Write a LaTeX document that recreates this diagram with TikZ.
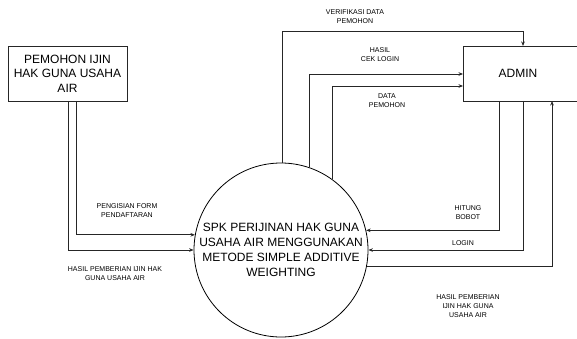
\documentclass[tikz,border=0pt]{standalone}
\usepackage{fontspec}
\setmainfont{Liberation Sans}
\usetikzlibrary{arrows.meta}
\begin{document}
\begin{tikzpicture}[x=1pt,y=-1pt,
  flow/.style={draw=black!85, line width=0.8pt, -{Stealth[length=4.5pt,width=3.6pt]}},
  entity/.style={draw=black!85, line width=0.8pt, inner sep=0pt},
  biglbl/.style={font=\fontsize{12}{14.5}\selectfont, align=center, inner sep=0pt},
  lbl/.style={font=\fontsize{7}{9}\selectfont, align=center, inner sep=0pt, text=black}]
\useasboundingbox (0,0) rectangle (577,339);
% entities
\node[entity, minimum width=119pt, minimum height=55pt] (pem) at (67.5,73.5) {};
\node[biglbl] (pemt) at (pem) {PEMOHON IJIN\\HAK GUNA USAHA\\AIR};
\begin{scope}
\clip (0,0) rectangle (577,339);
\node[entity, minimum width=125pt, minimum height=55pt, anchor=north west] (adm) at (463,46) {};
\end{scope}
\node[biglbl] (admt) at (518,73) {ADMIN};
% process
\node[circle, draw=black, line width=0.8pt, minimum size=174pt, inner sep=0pt] (c) at (281,250) {};
\node[biglbl, font=\fontsize{12}{15}\selectfont] (ct) at (281,250) {SPK PERIJINAN HAK GUNA\\USAHA AIR MENGGUNAKAN\\METODE SIMPLE ADDITIVE\\WEIGHTING};
% helper coordinates
\coordinate (p1) at (76,101);
\coordinate (p2) at (68,101);
\coordinate (a1) at (499,101);
\coordinate (a2) at (523,101);
\coordinate (a3) at (552,101);
\coordinate (at1) at (523,46);
\coordinate (al1) at (463,74);
\coordinate (al2) at (463,86);
% left flows
\draw[flow] (p1) |- (c.170.1);
\draw[flow] (p2) |- (c.180.7);
% top flows
\draw[flow] (c.89.3) |- (523,31) -- (at1);
\draw[flow] (c.71.9) |- (al1);
\draw[flow] (c.54.9) |- (al2);
% right flows
\draw[flow] (a1) |- (c.13.3);
\draw[flow] (a2) |- (c.-0.66);
\draw[flow] (c.-11.9) -| (a3);
% labels
\node[lbl] (l1) at (127,210.5) {PENGISIAN FORM\\PENDAFTARAN};
\node[lbl] (l2) at (115,273.5) {HASIL PEMBERIAN IJIN HAK\\GUNA USAHA AIR};
\node[lbl] (l3) at (355,16.5) {VERIFIKASI DATA\\PEMOHON};
\node[lbl] (l4) at (380,54.5) {HASIL\\CEK LOGIN};
\node[lbl] (l5) at (387,100.5) {DATA\\PEMOHON};
\node[lbl] (l6) at (468,212.5) {HITUNG\\BOBOT};
\node[lbl] (l7) at (463,243) {LOGIN};
\node[lbl] (l8) at (468,306) {HASIL PEMBERIAN\\IJIN HAK GUNA\\USAHA AIR};
\end{tikzpicture}
\end{document}
